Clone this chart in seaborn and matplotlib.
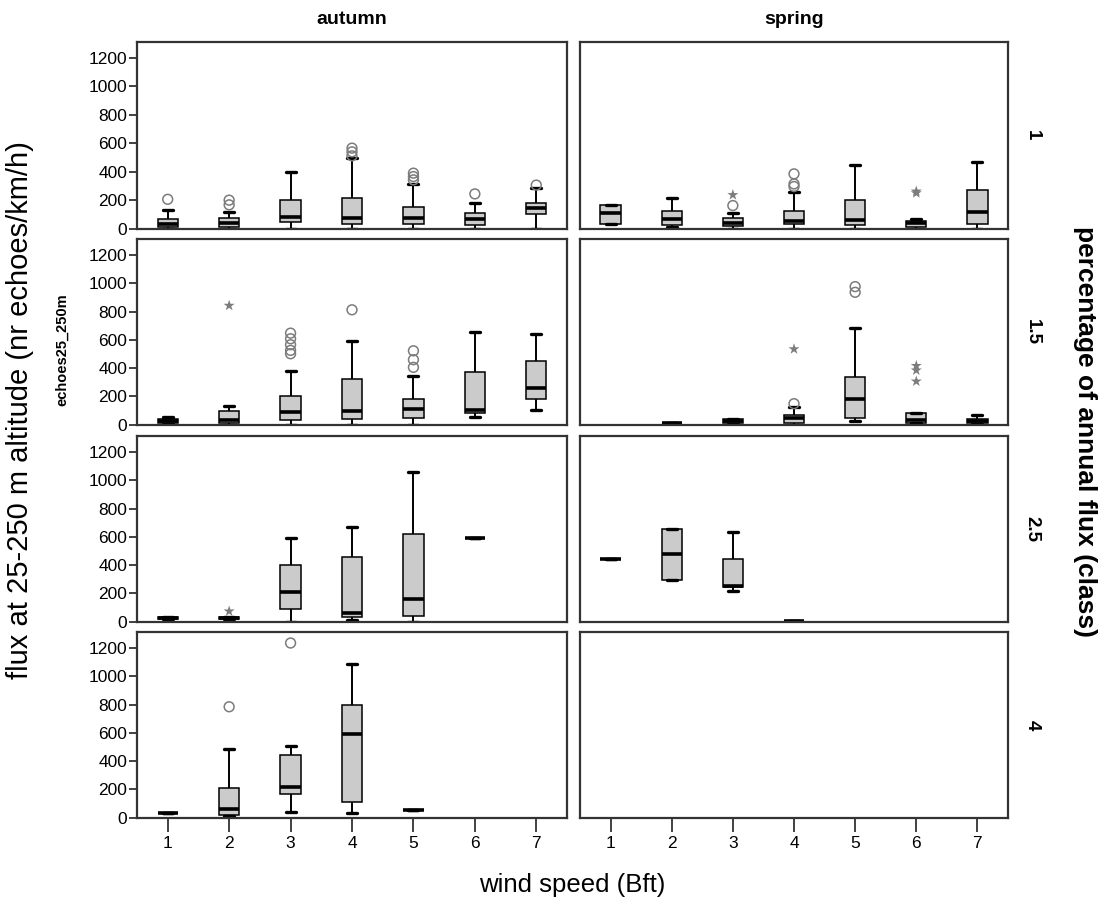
import numpy as np
import pandas as pd
import matplotlib
matplotlib.use("Agg")
import matplotlib.pyplot as plt
import seaborn as sns

# ---------------------------------------------------------------- data
seasons = ["autumn", "spring"]
flux_classes = ["1", "1.5", "2.5", "4"]
wind_levels = [1, 2, 3, 4, 5, 6, 7]
y_ticks = [0, 200, 400, 600, 800, 1000, 1200]

# five-number summaries per wind class:
# (wind, lower whisker, Q1, median, Q3, upper whisker)
autumn_1_boxes = [(1, 0, 8, 35, 68, 131), (2, 0, 10, 38, 73, 120),
                  (3, 0, 49, 84, 202, 401), (4, 0, 30, 73, 218, 495),
                  (5, 0, 30, 73, 155, 314), (6, 0, 26, 66, 108, 183),
                  (7, 0, 101, 143, 183, 284)]
spring_1_boxes = [(1, 33, 33, 113, 167, 167), (2, 14, 26, 66, 124, 214),
                  (3, 0, 19, 42, 77, 110), (4, 0, 30, 54, 124, 260),
                  (5, 0, 26, 61, 202, 444), (6, 0, 14, 38, 56, 68),
                  (7, 0, 30, 120, 272, 465)]
autumn_15_boxes = [(1, 5, 10, 24, 42, 52), (2, 0, 12, 31, 99, 129),
                   (3, 0, 35, 87, 205, 381), (4, 0, 40, 94, 325, 593),
                   (5, 0, 47, 111, 181, 341), (6, 52, 82, 106, 374, 654),
                   (7, 106, 181, 259, 452, 640)]
spring_15_boxes = [(2, 12, 12, 12, 12, 12), (3, 5, 10, 24, 40, 42),
                   (4, 0, 12, 47, 71, 122), (5, 24, 47, 184, 336, 682),
                   (6, 12, 12, 35, 82, 82), (7, 5, 8, 24, 42, 71)]
autumn_25_boxes = [(1, 20, 20, 26, 32, 32), (2, 18, 20, 26, 32, 34),
                   (3, 0, 89, 209, 402, 591), (4, 9, 31, 61, 454, 668),
                   (5, 0, 38, 160, 621, 1056), (6, 591, 591, 591, 591, 591)]
spring_25_boxes = [(1, 442, 442, 442, 442, 442), (2, 292, 292, 475, 654, 654),
                   (3, 219, 242, 249, 445, 631), (4, 7, 7, 7, 7, 7)]
autumn_4_boxes = [(1, 31, 31, 31, 31, 31), (2, 12, 19, 64, 212, 482),
                  (3, 40, 165, 219, 440, 506), (4, 31, 113, 593, 795, 1087),
                  (5, 54, 54, 54, 54, 54)]
spring_4_boxes = []

# outliers as (wind, value): circles = mild, stars = extreme
autumn_1_mild = [(1, 206), (2, 167), (2, 200), (4, 512), (4, 540), (4, 566),
                 (5, 343), (5, 366), (5, 390), (6, 244), (7, 306)]
autumn_1_extreme = []
spring_1_mild = [(3, 162), (4, 296), (4, 314), (4, 385)]
spring_1_extreme = [(3, 237), (6, 250), (6, 262)]
autumn_15_mild = [(3, 501), (3, 525), (3, 565), (3, 607), (3, 647),
                  (4, 812), (5, 405), (5, 459), (5, 522)]
autumn_15_extreme = [(2, 842)]
spring_15_mild = [(4, 148), (5, 936), (5, 976)]
spring_15_extreme = [(4, 534), (6, 306), (6, 384), (6, 416)]
autumn_25_mild = []
autumn_25_extreme = [(2, 73)]
spring_25_mild = []
spring_25_extreme = []
autumn_4_mild = [(2, 784), (3, 1235)]
autumn_4_extreme = []
spring_4_mild = []
spring_4_extreme = []

panel_boxes = {
    ("autumn", "1"): autumn_1_boxes, ("spring", "1"): spring_1_boxes,
    ("autumn", "1.5"): autumn_15_boxes, ("spring", "1.5"): spring_15_boxes,
    ("autumn", "2.5"): autumn_25_boxes, ("spring", "2.5"): spring_25_boxes,
    ("autumn", "4"): autumn_4_boxes, ("spring", "4"): spring_4_boxes,
}
panel_mild = {
    ("autumn", "1"): autumn_1_mild, ("spring", "1"): spring_1_mild,
    ("autumn", "1.5"): autumn_15_mild, ("spring", "1.5"): spring_15_mild,
    ("autumn", "2.5"): autumn_25_mild, ("spring", "2.5"): spring_25_mild,
    ("autumn", "4"): autumn_4_mild, ("spring", "4"): spring_4_mild,
}
panel_extreme = {
    ("autumn", "1"): autumn_1_extreme, ("spring", "1"): spring_1_extreme,
    ("autumn", "1.5"): autumn_15_extreme, ("spring", "1.5"): spring_15_extreme,
    ("autumn", "2.5"): autumn_25_extreme, ("spring", "2.5"): spring_25_extreme,
    ("autumn", "4"): autumn_4_extreme, ("spring", "4"): spring_4_extreme,
}

# long table: each box is described by its five summary values
records = []
for (season, cls), boxes in panel_boxes.items():
    for wind, *stats in boxes:
        for v in stats:
            records.append({"season": season, "flux_class": cls,
                            "wind": wind, "echoes25_250m": v})
df = pd.DataFrame(records)

# ---------------------------------------------------------------- style
sns.set_theme(style="white")
plt.rcParams["font.family"] = ["Liberation Sans", "DejaVu Sans"]
plt.rcParams["text.color"] = "black"
plt.rcParams["axes.labelcolor"] = "black"
plt.rcParams["xtick.color"] = "black"
plt.rcParams["ytick.color"] = "black"

W, H = 1106, 902
BOX_FILL = "#cbcbcb"
OUT_COLOR = "#7c7c7c"
SPINE_COLOR = "#333333"

fig = plt.figure(figsize=(W / 100, H / 100), dpi=100)

col_x = [(137, 567), (580, 1008)]
row_y = [(42, 229), (239, 425), (436, 622), (632, 818)]


def px_rect(x0, x1, y0, y1):
    return [x0 / W, 1 - y1 / H, (x1 - x0) / W, (y1 - y0) / H]


def fig_text(x, y, s, **kw):
    fig.text(x / W, 1 - y / H, s, **kw)


for i, cls in enumerate(flux_classes):
    for j, season in enumerate(seasons):
        ax = fig.add_axes(px_rect(*col_x[j], *row_y[i]))
        sub = df[(df["season"] == season) & (df["flux_class"] == cls)]
        if len(sub):
            sns.boxplot(data=sub, x="wind", y="echoes25_250m",
                        native_scale=True, width=0.33, whis=np.inf,
                        color=BOX_FILL, saturation=1, linecolor="black",
                        linewidth=1.1,
                        medianprops=dict(linewidth=2.6, color="black"),
                        whiskerprops=dict(linewidth=1.4),
                        capprops=dict(linewidth=2.4),
                        ax=ax)
        mild = panel_mild[(season, cls)]
        if mild:
            sns.scatterplot(x=[w for w, _ in mild], y=[v for _, v in mild],
                            marker="o", s=50, color=OUT_COLOR,
                            facecolor="none", edgecolor=OUT_COLOR,
                            linewidth=1.1, ax=ax, zorder=5)
        extreme = panel_extreme[(season, cls)]
        if extreme:
            sns.scatterplot(x=[w for w, _ in extreme],
                            y=[v for _, v in extreme],
                            marker="*", s=70, color=OUT_COLOR,
                            edgecolor="none", ax=ax, zorder=5)

        ax.set_xlim(0.5, 7.5)
        ax.set_ylim(-3, 1313)
        ax.set_xlabel("")
        ax.set_ylabel("")
        ax.set_xticks(wind_levels)
        ax.set_xticklabels([str(w) for w in wind_levels])
        ax.set_yticks(y_ticks)
        ax.set_yticklabels([str(t) for t in y_ticks])
        for sp in ax.spines.values():
            sp.set_visible(True)
            sp.set_color(SPINE_COLOR)
            sp.set_linewidth(1.6)

        ax.tick_params(axis="y", left=(j == 0), labelleft=(j == 0),
                       length=5.5, width=1.3, color=SPINE_COLOR,
                       labelsize=12.5, pad=1.5, direction="out")
        last = i == len(flux_classes) - 1
        ax.tick_params(axis="x", bottom=last, labelbottom=last,
                       length=10, width=1.3, color=SPINE_COLOR,
                       labelsize=12.5, pad=3, direction="out")
        ax.grid(False)

# column headers
for j, season in enumerate(seasons):
    fig_text((col_x[j][0] + col_x[j][1]) / 2, 20, season,
             ha="center", va="center", fontsize=14, fontweight="bold")

# row headers
for i, cls in enumerate(flux_classes):
    fig_text(1032, (row_y[i][0] + row_y[i][1]) / 2, cls, rotation=270,
             ha="center", va="center", fontsize=13.5, fontweight="bold")

fig_text(1085, 431, "percentage of annual flux (class)", rotation=270,
         ha="center", va="center", fontsize=19, fontweight="bold")
fig_text(20, 410, "flux at 25-250 m altitude (nr echoes/km/h)", rotation=90,
         ha="center", va="center", fontsize=21)
fig_text(62, 350, "echoes25_250m", rotation=90,
         ha="center", va="center", fontsize=10.5, fontweight="bold")
fig_text(572, 885, "wind speed (Bft)", ha="center", va="center", fontsize=18.5)

fig.savefig("out.png", dpi=100)
